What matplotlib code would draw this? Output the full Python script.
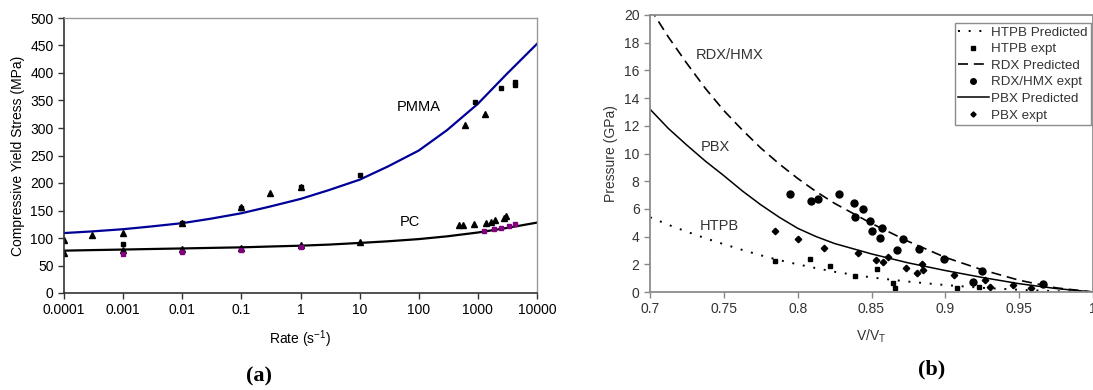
import matplotlib
matplotlib.use('Agg')
import matplotlib.pyplot as plt

plt.rcParams['font.family'] = ['Liberation Sans', 'DejaVu Sans']
plt.rcParams['mathtext.default'] = 'regular'

# ---- panel (a): compressive yield stress vs strain rate ----
fit_rate = [0.0001, 0.0003, 0.001, 0.003, 0.01, 0.03, 0.1, 0.3, 1, 3,
            10, 30, 100, 300, 1000, 3000, 10000]
pmma_fit = [109, 112, 116, 121, 127, 135, 145, 157, 171, 187,
            206, 230, 259, 296, 344, 397, 453]
pc_fit = [77, 78, 79, 80, 81, 82, 83, 84.5, 86, 88,
          91, 94, 98, 103, 110, 118, 128]

pmma_tri_rate = [0.0001, 0.0003, 0.001, 0.01, 0.1, 0.3, 1, 600, 1300]
pmma_tri = [96, 105, 110, 128, 156, 181, 193, 305, 326]
pmma_sq_rate = [0.001, 0.01, 0.1, 1, 10, 900, 2500, 4200, 4300]
pmma_sq = [90, 127, 154, 192, 214, 348, 372, 384, 379]

pc_tri_rate = [0.0001, 0.001, 0.01, 0.1, 1, 10, 480, 560, 850,
               1350, 1650, 1950, 2800, 2950]
pc_tri = [73, 78, 80, 81, 88, 93, 124, 123, 125, 127, 130, 133, 137, 140]
pc_sq_rate = [0.001, 0.01, 0.1, 1, 1250, 1850, 2450, 3400, 4200]
pc_sq = [71, 75, 79, 84, 113, 116, 118, 122, 125]

rate_ticks = [0.0001, 0.001, 0.01, 0.1, 1, 10, 100, 1000, 10000]
rate_labels = ['0.0001', '0.001', '0.01', '0.1', '1', '10', '100', '1000', '10000']

# ---- panel (b): pressure vs relative volume ----
vv_fit = [0.7, 0.7125, 0.725, 0.7375, 0.75, 0.7625, 0.775, 0.7875, 0.8,
          0.8125, 0.825, 0.85, 0.875, 0.9, 0.925, 0.95, 0.975, 1.0]
htpb_fit = [5.4, 4.85, 4.35, 3.88, 3.45, 3.04, 2.65, 2.3, 2.0,
            1.72, 1.46, 1.05, 0.75, 0.5, 0.3, 0.16, 0.06, 0.0]
rdx_fit = [20.5, 18.4, 16.5, 14.7, 13.1, 11.7, 10.4, 9.25, 8.2,
           7.25, 6.4, 4.95, 3.65, 2.5, 1.6, 0.85, 0.3, 0.0]
pbx_fit = [13.2, 11.8, 10.6, 9.45, 8.4, 7.3, 6.3, 5.4, 4.6,
           4.0, 3.5, 2.75, 2.1, 1.55, 1.05, 0.6, 0.25, 0.0]

htpb_v = [0.7845, 0.8086, 0.8221, 0.8388, 0.8535, 0.8644, 0.866, 0.908, 0.923]
htpb_p = [2.24, 2.38, 1.9, 1.18, 1.66, 0.63, 0.31, 0.27, 0.38]

rdx_v = [0.795, 0.809, 0.814, 0.828, 0.838, 0.844, 0.839, 0.849, 0.850,
         0.857, 0.856, 0.871, 0.867, 0.882, 0.899, 0.919, 0.925, 0.966]
rdx_p = [7.1, 6.6, 6.75, 7.1, 6.4, 6.0, 5.45, 5.15, 4.4,
         4.6, 3.9, 3.8, 3.0, 3.1, 2.4, 0.75, 1.55, 0.55]

pbx_v = [0.7847, 0.8005, 0.818, 0.841, 0.853, 0.858, 0.8613, 0.8736,
         0.881, 0.884, 0.8847, 0.906, 0.927, 0.930, 0.9456, 0.958]
pbx_p = [4.4, 3.85, 3.15, 2.8, 2.3, 2.2, 2.55, 1.7,
         1.4, 2.0, 1.6, 1.2, 0.87, 0.34, 0.5, 0.26]

vv_ticks = [0.7, 0.75, 0.8, 0.85, 0.9, 0.95, 1.0]
vv_labels = ['0.7', '0.75', '0.8', '0.85', '0.9', '0.95', '1']


fig = plt.figure(figsize=(10.93, 3.9), dpi=100)

# panel (a)
ax1 = fig.add_axes([64 / 1093, 1 - 293 / 390, 473 / 1093, 275 / 390])
ax1.plot(fit_rate, pmma_fit, color='#000099', lw=1.6)
ax1.plot(fit_rate, pc_fit, color='black', lw=1.6)
ax1.plot(pmma_tri_rate, pmma_tri, '^', color='black', ms=5)
ax1.plot(pmma_sq_rate, pmma_sq, 's', color='black', ms=3)
ax1.plot(pc_tri_rate, pc_tri, '^', color='black', ms=5)
ax1.plot(pc_sq_rate, pc_sq, 's', color='#800080', ms=3.5)
ax1.text(100, 338, 'PMMA', fontsize=10.5, ha='center', va='center')
ax1.text(70, 129, 'PC', fontsize=10.5, ha='center', va='center')

ax1.set_xscale('log')
ax1.set_xlim(0.0001, 10000)
ax1.set_ylim(0, 500)
ax1.set_xticks(rate_ticks)
ax1.set_xticklabels(rate_labels)
ax1.minorticks_off()
ax1.set_yticks(range(0, 501, 50))
ax1.tick_params(labelsize=10, length=4, width=1, color='#333333')
ax1.set_xlabel('Rate (s$^{-1}$)', fontsize=10, labelpad=8)
ax1.set_ylabel('Compressive Yield Stress (MPa)', fontsize=10, labelpad=4)
for side in ['left', 'bottom']:
    ax1.spines[side].set_color('#333333')
    ax1.spines[side].set_linewidth(1.2)
for side in ['top', 'right']:
    ax1.spines[side].set_color('#999999')
    ax1.spines[side].set_linewidth(1.0)

# panel (b)
ax2 = fig.add_axes([650 / 1093, 1 - 292 / 390, 443 / 1093, 277 / 390])
ax2.plot(vv_fit, htpb_fit, color='black', lw=1.4, linestyle=(0, (1, 4.5)),
         label='HTPB Predicted')
ax2.plot(htpb_v, htpb_p, 's', color='black', ms=3.5, label='HTPB expt')
ax2.plot(vv_fit, rdx_fit, color='black', lw=1.2, linestyle=(0, (6, 3.5)),
         label='RDX Predicted')
ax2.plot(rdx_v, rdx_p, 'o', color='black', ms=5, label='RDX/HMX expt')
ax2.plot(vv_fit, pbx_fit, color='black', lw=1.1, label='PBX Predicted')
ax2.plot(pbx_v, pbx_p, 'D', color='black', ms=3.3, label='PBX expt')
ax2.text(0.754, 17.1, 'RDX/HMX', fontsize=10.5, color='#333333', ha='center', va='center')
ax2.text(0.744, 10.5, 'PBX', fontsize=10.5, color='#333333', ha='center', va='center')
ax2.text(0.747, 4.75, 'HTPB', fontsize=10.5, color='#333333', ha='center', va='center')

ax2.set_xlim(0.7, 1.0)
ax2.set_ylim(0, 20)
ax2.set_xticks(vv_ticks)
ax2.set_xticklabels(vv_labels)
ax2.set_yticks(range(0, 21, 2))
ax2.tick_params(labelsize=10, length=4, width=1, color='#888888', labelcolor='#333333')
ax2.set_xlabel('V/V$_T$', fontsize=10, color='#333333', labelpad=8)
ax2.set_ylabel('Pressure (GPa)', fontsize=10, color='#333333', labelpad=4)
for side in ax2.spines:
    ax2.spines[side].set_color('#8c8c8c')
    ax2.spines[side].set_linewidth(1.3)

leg = ax2.legend(loc='upper right', bbox_to_anchor=(1091 / 1093, 1 - 23 / 390),
                 bbox_transform=fig.transFigure, borderaxespad=0, fontsize=9.6,
                 fancybox=False, framealpha=1, edgecolor='#8c8c8c',
                 handlelength=2.3, handletextpad=0.2, labelspacing=0.32,
                 borderpad=0.25, markerscale=0.8)
leg.get_frame().set_linewidth(1.0)
for t in leg.get_texts():
    t.set_color('#333333')

fig.text(259 / 1093, 1 - 376 / 390, '(a)', fontsize=16, fontweight='bold',
         family='Liberation Serif', ha='center', va='center')
fig.text(932 / 1093, 1 - 369 / 390, '(b)', fontsize=16, fontweight='bold',
         family='Liberation Serif', ha='center', va='center')

fig.savefig('out.png', dpi=100)
